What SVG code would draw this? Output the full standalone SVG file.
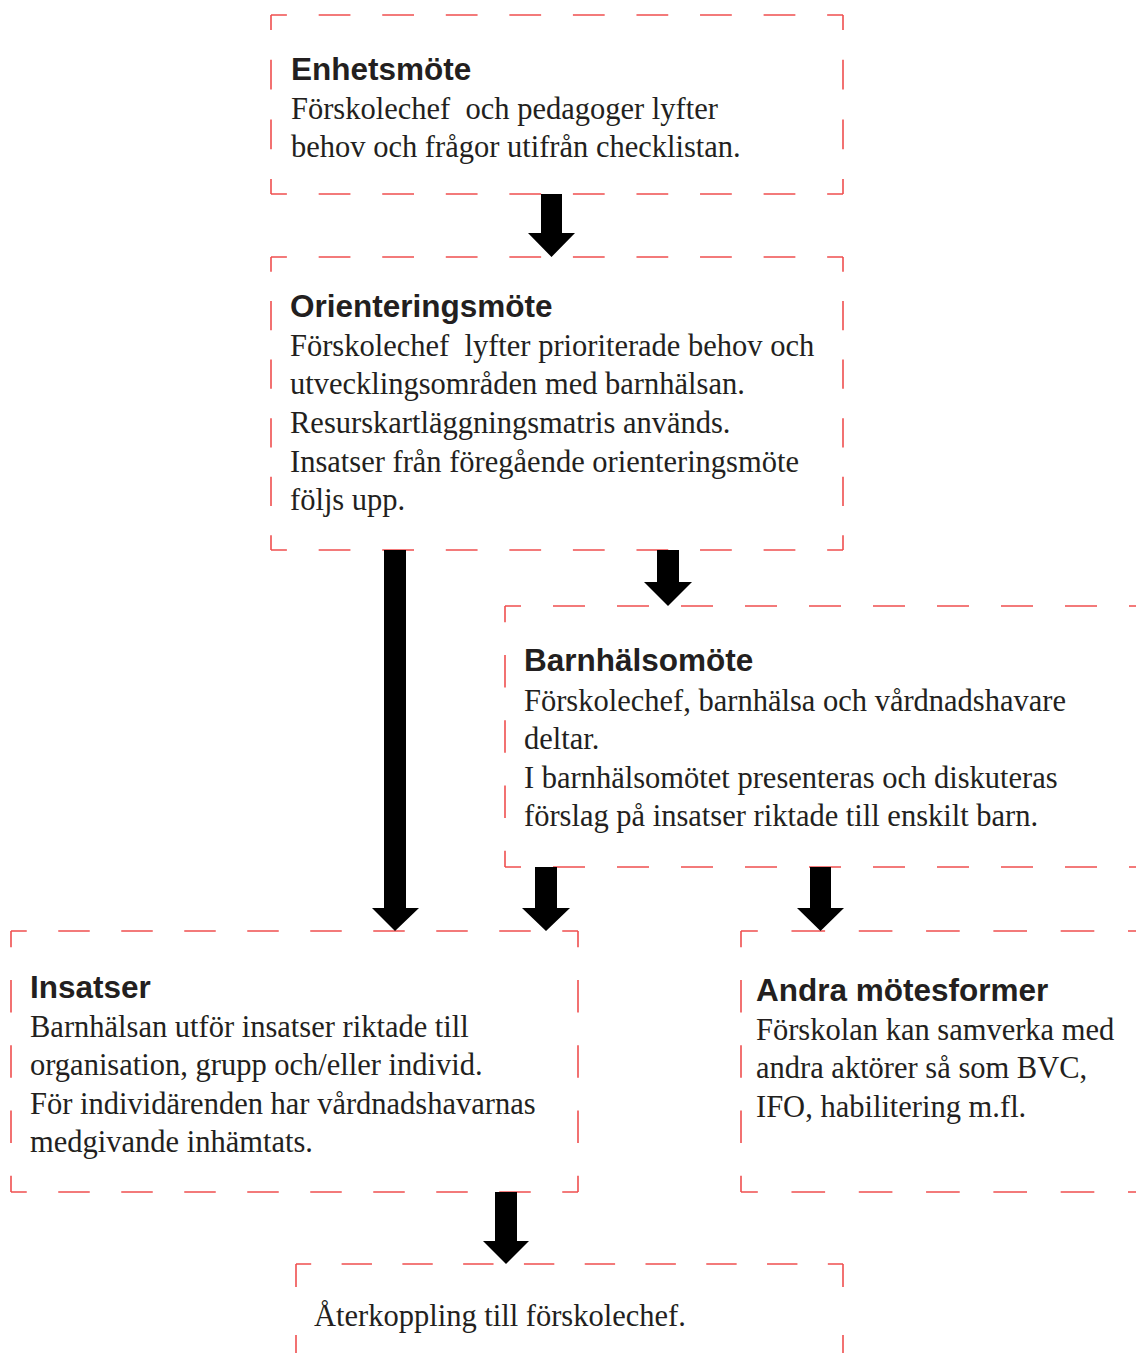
<svg xmlns="http://www.w3.org/2000/svg" width="1136" height="1353" viewBox="0 0 1136 1353">
<style>
.b{fill:none;stroke:#ef4f4f;stroke-width:1.6}
.t{font-family:"Liberation Sans",Arial,sans-serif;font-weight:bold;font-size:31.5px;fill:#231f20}
.x{font-family:"Liberation Serif","Times New Roman",serif;font-size:30.5px;fill:#231f20}
.a{fill:#000}
</style>
<rect width="1136" height="1353" fill="#fff"/>
<g id="n1">
<path class="b" d="M271 15H843M271 194H843" stroke-dasharray="31.78 31.78" stroke-dashoffset="15.89"/>
<path class="b" d="M271 15V194M843 15V194" stroke-dasharray="29.83 29.83" stroke-dashoffset="14.92"/>
<text class="t" x="291" y="80">Enhetsmöte</text>
<text class="x" x="291" y="119" xml:space="preserve">Förskolechef  och pedagoger lyfter</text>
<text class="x" x="291" y="157">behov och frågor utifrån checklistan.</text>
</g>
<g id="n2">
<path class="b" d="M271 257H843M271 550H843" stroke-dasharray="31.78 31.78" stroke-dashoffset="15.89"/>
<path class="b" d="M271 257V550M843 257V550" stroke-dasharray="29.3 29.3" stroke-dashoffset="14.65"/>
<text class="t" x="290" y="317">Orienteringsmöte</text>
<text class="x" x="290" y="356" xml:space="preserve">Förskolechef  lyfter prioriterade behov och</text>
<text class="x" x="290" y="394">utvecklingsområden med barnhälsan.</text>
<text class="x" x="290" y="433">Resurskartläggningsmatris används.</text>
<text class="x" x="290" y="472">Insatser från föregående orienteringsmöte</text>
<text class="x" x="290" y="510">följs upp.</text>
</g>
<g id="n3">
<path class="b" d="M505 606H1145M505 867H1145" stroke-dasharray="32 32" stroke-dashoffset="16"/>
<path class="b" d="M505 606V867" stroke-dasharray="32.63 32.63" stroke-dashoffset="16.31"/>
<text class="t" x="524" y="671">Barnhälsomöte</text>
<text class="x" x="524" y="711">Förskolechef, barnhälsa och vårdnadshavare</text>
<text class="x" x="524" y="749">deltar.</text>
<text class="x" x="524" y="788">I barnhälsomötet presenteras och diskuteras</text>
<text class="x" x="524" y="826">förslag på insatser riktade till enskilt barn.</text>
</g>
<g id="n4">
<path class="b" d="M11 931H578M11 1192H578" stroke-dasharray="31.5 31.5" stroke-dashoffset="15.75"/>
<path class="b" d="M11 931V1192M578 931V1192" stroke-dasharray="32.63 32.63" stroke-dashoffset="16.31"/>
<text class="t" x="30" y="998">Insatser</text>
<text class="x" x="30" y="1037">Barnhälsan utför insatser riktade till</text>
<text class="x" x="30" y="1075">organisation, grupp och/eller individ.</text>
<text class="x" x="30" y="1114">För individärenden har vårdnadshavarnas</text>
<text class="x" x="30" y="1152">medgivande inhämtats.</text>
</g>
<g id="n5">
<path class="b" d="M741 931H1145M741 1192H1145" stroke-dasharray="33.65 33.65" stroke-dashoffset="16.83"/>
<path class="b" d="M741 931V1192" stroke-dasharray="32.63 32.63" stroke-dashoffset="16.31"/>
<text class="t" x="756" y="1001">Andra mötesformer</text>
<text class="x" x="756" y="1040">Förskolan kan samverka med</text>
<text class="x" x="756" y="1078">andra aktörer så som BVC,</text>
<text class="x" x="756" y="1117">IFO, habilitering m.fl.</text>
</g>
<g id="n6">
<path class="b" d="M296 1264H843" stroke-dasharray="30.39 30.39" stroke-dashoffset="15.19"/>
<path class="b" d="M296 1264V1287M296 1335V1360M843 1264V1287M843 1335V1360"/>
<text class="x" x="314" y="1326">Återkoppling till förskolechef.</text>
</g>
<g id="connectors">
<polygon class="a" points="541,194 562,194 562,233 575,233 551.5,257 528,233 541,233"/>
<polygon class="a" points="384,550 406,550 406,908 419,908 395,931 372,908 384,908"/>
<polygon class="a" points="657,550 679,550 679,582 692,582 668,606 644,582 657,582"/>
<polygon class="a" points="535,867 557,867 557,908 570,908 546,931 522,908 535,908"/>
<polygon class="a" points="810,867 831,867 831,908 844,908 820.5,931 797,908 810,908"/>
<polygon class="a" points="495,1192 517,1192 517,1241 529,1241 506,1264 483,1241 495,1241"/>
</g>
</svg>
